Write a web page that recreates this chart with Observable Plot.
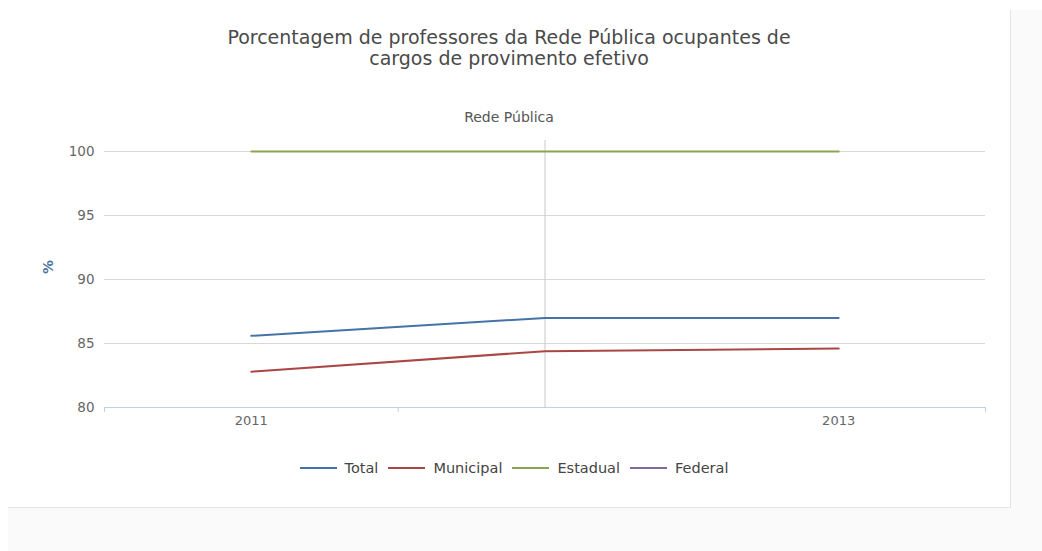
<!DOCTYPE html>
<html>
<head>
<meta charset="utf-8">
<script src="https://cdn.jsdelivr.net/npm/d3@7"></script>
<script src="https://cdn.jsdelivr.net/npm/@observablehq/plot@0.6"></script>
<style>
  html, body { margin: 0; padding: 0; background: #ffffff; width: 1042px; height: 551px; overflow: hidden; font-family: "DejaVu Sans", Verdana, sans-serif; }
  #outer { position: absolute; left: 8px; top: 10px; width: 1034px; height: 541px; background: #fafafa; }
  #card { position: absolute; left: 0; top: 0; width: 1002px; height: 497px; background: #fff; border-right: 1px solid #e4e4e4; border-bottom: 1px solid #e4e4e4; }
  #title { position: absolute; left: 0; top: 17px; width: 1002px; text-align: center; font-size: 19px; line-height: 21px; color: #4a4a4a; }
  #subtitle { position: absolute; left: 0; top: 98px; width: 1002px; text-align: center; font-size: 14px; line-height: 18px; color: #555; }
  #chart { position: absolute; left: 0; top: 90px; }
  #legend { position: absolute; left: 0; top: 449px; width: 1012px; display: flex; justify-content: center; font-size: 14.5px; color: #444; line-height: 18px; }
  .item { display: flex; align-items: center; margin: 0 5px; }
  .sw { width: 37px; height: 2px; margin-right: 8px; }
</style>
</head>
<body>
<div id="outer">
  <div id="card">
    <div id="title">Porcentagem de professores da Rede Pública ocupantes de<br>cargos de provimento efetivo</div>
    <div id="subtitle">Rede Pública</div>
    <div id="chart"></div>
    <div id="legend"></div>
  </div>
</div>
<script>
const years = [2011, 2012, 2013];
const xTickLabels = ["2011", "", "2013"];
const seriesNames = ["Total", "Municipal", "Estadual", "Federal"];
const seriesColors = ["#4572A7", "#AA4643", "#89A54E", "#80699B"];
const total = [85.6, 87.0, 87.0];
const municipal = [82.8, 84.4, 84.6];
const estadual = [100, 100, 100];
const federal = [];
const yTicks = [80, 85, 90, 95, 100];
const yAxisTitle = "%";

const seriesValues = [total, municipal, estadual, federal];
const data = [];
seriesNames.forEach((s, i) => {
  seriesValues[i].forEach((v, j) => data.push({series: s, year: years[j], value: v}));
});

const bandEdges = [years[0] - 0.5, years[1] - 0.5, years[2] + 0.5];
const labelYears = years.filter((y, i) => xTickLabels[i] !== "");

const chart = Plot.plot({
  width: 1002,
  height: 347,
  marginLeft: 96,
  marginRight: 25,
  marginTop: 40,
  marginBottom: 40,
  style: {fontFamily: '"DejaVu Sans", Verdana, sans-serif', fontSize: "13px", background: "transparent"},
  x: {type: "linear", domain: [years[0] - 0.5, years[2] + 0.5]},
  y: {domain: [80, 100.86]},
  color: {domain: seriesNames, range: seriesColors},
  marks: [
    Plot.ruleY(yTicks.slice(1), {stroke: "#d8d8d8", strokeWidth: 1}),
    Plot.ruleX([years[1]], {stroke: "#c8c8c8", strokeWidth: 1}),
    Plot.ruleY([yTicks[0]], {stroke: "#C0D0E0", strokeWidth: 1}),
    Plot.axisX({ticks: bandEdges, tickSize: 5, tickFormat: () => "", stroke: "#C0D0E0", label: null}),
    Plot.axisX({ticks: labelYears, tickSize: 0, tickPadding: 8, tickFormat: d => xTickLabels[years.indexOf(d)], fill: "#666", fontSize: 13, label: null}),
    Plot.axisY({ticks: yTicks, tickSize: 0, tickPadding: 10, fill: "#666", fontSize: 13.5, label: null}),
    Plot.text([yAxisTitle], {frameAnchor: "left", text: d => d, rotate: -90, dx: -56, fill: "#4d759e", fontWeight: "bold", fontSize: 14}),
    Plot.line(data, {x: "year", y: "value", z: "series", stroke: "series", strokeWidth: 2})
  ]
});
document.getElementById("chart").appendChild(chart);

const legend = document.getElementById("legend");
seriesNames.forEach((s, i) => {
  const item = document.createElement("div");
  item.className = "item";
  const sw = document.createElement("div");
  sw.className = "sw";
  sw.style.background = seriesColors[i];
  item.appendChild(sw);
  const t = document.createElement("span");
  t.textContent = s;
  item.appendChild(t);
  legend.appendChild(item);
});
</script>
</body>
</html>
